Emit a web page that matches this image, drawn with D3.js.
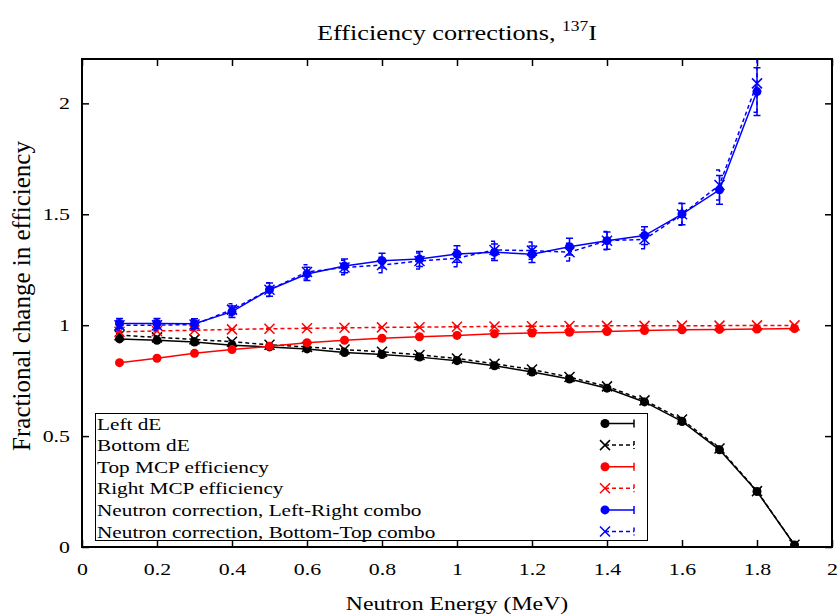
<!DOCTYPE html>
<html>
<head>
<meta charset="utf-8">
<script src="https://cdn.jsdelivr.net/npm/d3@7"></script>
<style>
  html, body { margin: 0; padding: 0; background: #fff; }
  svg { display: block; }
  text { font-family: "Liberation Serif", "Times New Roman", serif; fill: #000; }
</style>
</head>
<body>
<svg id="chart" width="839" height="614"></svg>
<script>
// Neutron energy bins (MeV)
const energy = [0.1, 0.2, 0.3, 0.4, 0.5, 0.6, 0.7, 0.8, 0.9, 1.0, 1.1, 1.2, 1.3, 1.4, 1.5, 1.6, 1.7, 1.8, 1.9];

// Fractional change in efficiency for each correction
const leftDE      = [0.938, 0.932, 0.924, 0.910, 0.902, 0.893, 0.877, 0.868, 0.856, 0.840, 0.817, 0.789, 0.757, 0.716, 0.654, 0.566, 0.438, 0.250, 0.009];
const leftDEErr   = [0.006, 0.006, 0.006, 0.006, 0.006, 0.006, 0.006, 0.006, 0.006, 0.006, 0.006, 0.006, 0.006, 0.007, 0.008, 0.009, 0.010, 0.010, 0.008];
const bottomDE    = [0.955, 0.945, 0.936, 0.925, 0.912, 0.902, 0.890, 0.880, 0.866, 0.850, 0.826, 0.800, 0.766, 0.724, 0.661, 0.575, 0.444, 0.252, 0.010];
const bottomDEErr = [0.006, 0.006, 0.006, 0.006, 0.006, 0.006, 0.006, 0.006, 0.006, 0.006, 0.006, 0.006, 0.006, 0.007, 0.008, 0.009, 0.010, 0.010, 0.008];
const topMCP      = [0.831, 0.851, 0.873, 0.890, 0.905, 0.921, 0.932, 0.941, 0.948, 0.954, 0.961, 0.965, 0.968, 0.971, 0.976, 0.979, 0.981, 0.983, 0.985];
const topMCPErr   = [0.003, 0.003, 0.003, 0.003, 0.003, 0.003, 0.003, 0.003, 0.003, 0.003, 0.003, 0.003, 0.003, 0.003, 0.003, 0.003, 0.003, 0.003, 0.003];
const rightMCP    = [0.970, 0.974, 0.977, 0.981, 0.984, 0.986, 0.988, 0.990, 0.991, 0.993, 0.994, 0.995, 0.996, 0.997, 0.997, 0.998, 0.998, 0.999, 0.999];
const rightMCPErr = [0.002, 0.002, 0.002, 0.002, 0.002, 0.002, 0.002, 0.002, 0.002, 0.002, 0.002, 0.002, 0.002, 0.002, 0.002, 0.002, 0.002, 0.002, 0.002];
const neutronLR   = [1.008, 1.008, 1.007, 1.061, 1.160, 1.231, 1.267, 1.291, 1.298, 1.321, 1.329, 1.320, 1.354, 1.381, 1.404, 1.501, 1.610, 2.053];
const neutronLRErr= [0.022, 0.022, 0.022, 0.026, 0.030, 0.030, 0.031, 0.033, 0.034, 0.037, 0.037, 0.037, 0.038, 0.039, 0.040, 0.048, 0.065, 0.108];
const neutronBT   = [1.000, 1.000, 1.003, 1.070, 1.160, 1.240, 1.260, 1.271, 1.289, 1.302, 1.339, 1.336, 1.329, 1.381, 1.387, 1.500, 1.632, 2.090];
const neutronBTErr= [0.022, 0.022, 0.022, 0.027, 0.031, 0.032, 0.033, 0.035, 0.036, 0.039, 0.039, 0.039, 0.040, 0.041, 0.042, 0.050, 0.068, 0.130];

// Axis ticks
const xTicks = [0, 0.2, 0.4, 0.6, 0.8, 1, 1.2, 1.4, 1.6, 1.8, 2];
const yTicks = [0, 0.5, 1, 1.5, 2];

const series = [
  { name: "Left dE",                               y: leftDE,    err: leftDEErr,    color: "#000000", marker: "circle", dashed: false },
  { name: "Bottom dE",                             y: bottomDE,  err: bottomDEErr,  color: "#000000", marker: "cross",  dashed: true  },
  { name: "Top MCP efficiency",                    y: topMCP,    err: topMCPErr,    color: "#ff0000", marker: "circle", dashed: false },
  { name: "Right MCP efficiency",                  y: rightMCP,  err: rightMCPErr,  color: "#ff0000", marker: "cross",  dashed: true  },
  { name: "Neutron correction, Left-Right combo",  y: neutronLR, err: neutronLRErr, color: "#0000ff", marker: "circle", dashed: false },
  { name: "Neutron correction, Bottom-Top combo",  y: neutronBT, err: neutronBTErr, color: "#0000ff", marker: "cross",  dashed: true  }
];

const margin = { left: 82, right: 7, top: 59, bottom: 67 };
const W = 839, H = 614;
const x = d3.scaleLinear().domain([0, 2]).range([margin.left, W - margin.right]);
const y = d3.scaleLinear().domain([0, 2.2]).range([H - margin.bottom, margin.top]);

const svg = d3.select("#chart");
const DASH = "4,3";
const WIDE = 1.25;   // horizontal stretch of the serif lettering

svg.append("defs").append("clipPath").attr("id", "plotclip")
  .append("rect")
  .attr("x", margin.left).attr("y", margin.top)
  .attr("width", x.range()[1] - margin.left)
  .attr("height", y.range()[0] - margin.top);

// Stretched text placed at (tx, ty)
function wideText(g, tx, ty, size, anchor) {
  return g.append("text")
    .attr("transform", `translate(${tx},${ty}) scale(${WIDE},1)`)
    .attr("text-anchor", anchor)
    .style("font-size", size + "px");
}

// Title with superscript mass number
const title = wideText(svg, 457, 40, 21, "middle");
title.append("tspan").text("Efficiency corrections, ");
title.append("tspan").attr("dy", -9).style("font-size", "14px").text("137");
title.append("tspan").attr("dy", 9).text("I");

// Axis labels
wideText(svg, 457, 610, 19, "middle").text("Neutron Energy (MeV)");
svg.append("text")
  .attr("transform", "translate(30,296) rotate(-90)")
  .attr("text-anchor", "middle")
  .style("font-size", "25px")
  .text("Fractional change in efficiency");

// Axes with inward ticks, mirrored on the opposite sides
const tickLen = 7;
const xAxisB = d3.axisBottom(x).tickValues(xTicks).tickSizeInner(-tickLen).tickSizeOuter(0).tickPadding(16).tickFormat(d3.format("~g"));
const xAxisT = d3.axisTop(x).tickValues(xTicks).tickSizeInner(-tickLen).tickSizeOuter(0).tickFormat("");
const yAxisL = d3.axisLeft(y).tickValues(yTicks).tickSizeInner(-tickLen).tickSizeOuter(0).tickPadding(9.6).tickFormat(d3.format("~g"));
const yAxisR = d3.axisRight(y).tickValues(yTicks).tickSizeInner(-tickLen).tickSizeOuter(0).tickFormat("");

function styleAxis(g) {
  g.select(".domain").remove();
  g.selectAll(".tick line").attr("stroke", "#000").attr("stroke-width", 1.5);
  g.selectAll(".tick text")
    .attr("transform", `scale(${WIDE},1)`)
    .style("font-size", "17.5px")
    .style("font-family", "'Liberation Serif', serif")
    .attr("fill", "#000");
}
svg.append("g").attr("transform", `translate(0,${y.range()[0]})`).call(xAxisB).call(styleAxis);
svg.append("g").attr("transform", `translate(0,${margin.top})`).call(xAxisT).call(styleAxis);
svg.append("g").attr("transform", `translate(${margin.left},0)`).call(yAxisL).call(styleAxis);
svg.append("g").attr("transform", `translate(${x.range()[1]},0)`).call(yAxisR).call(styleAxis);

// Marker helpers
function drawMarker(g, type, cx, cy, color) {
  if (type === "circle") {
    g.append("circle").attr("cx", cx).attr("cy", cy).attr("r", 4.5).attr("fill", color);
  } else {
    const s = 5;
    g.append("path")
      .attr("d", `M${cx - s},${cy - s}L${cx + s},${cy + s}M${cx - s},${cy + s}L${cx + s},${cy - s}`)
      .attr("stroke", color).attr("stroke-width", 1.5).attr("fill", "none");
  }
}

// Data series: lines, error bars, markers
const plot = svg.append("g").attr("clip-path", "url(#plotclip)");
series.forEach(s => {
  const pts = s.y.map((v, i) => ({ x: energy[i], y: v, e: s.err[i] }));
  const g = plot.append("g");
  g.append("path")
    .datum(pts)
    .attr("fill", "none")
    .attr("stroke", s.color)
    .attr("stroke-width", 1.5)
    .attr("stroke-dasharray", s.dashed ? DASH : null)
    .attr("d", d3.line().x(d => x(d.x)).y(d => y(d.y)));
  pts.forEach(p => {
    const px = x(p.x), y0 = y(p.y - p.e), y1 = y(p.y + p.e);
    const cap = 3.5;
    g.append("path")
      .attr("d", `M${px},${y0}L${px},${y1}M${px - cap},${y0}L${px + cap},${y0}M${px - cap},${y1}L${px + cap},${y1}`)
      .attr("stroke", s.color).attr("stroke-width", 1.5).attr("fill", "none")
      .attr("stroke-dasharray", s.dashed ? DASH : null);
    drawMarker(g, s.marker, px, y(p.y), s.color);
  });
});

// Frame
svg.append("rect")
  .attr("x", margin.left).attr("y", margin.top)
  .attr("width", x.range()[1] - margin.left)
  .attr("height", y.range()[0] - margin.top)
  .attr("fill", "none").attr("stroke", "#000").attr("stroke-width", 2);

// Legend
const legend = svg.append("g");
legend.append("rect")
  .attr("x", 95.5).attr("y", 413.5).attr("width", 552).attr("height", 127)
  .attr("fill", "#fff").attr("stroke", "#000").attr("stroke-width", 1);
series.forEach((s, i) => {
  const cy = 423.5 + i * 21.6;
  wideText(legend, 97, cy + 6, 17, "start").text(s.name);
  const x0 = 605, x1 = 634;
  legend.append("path")
    .attr("d", `M${x0},${cy}L${x1},${cy}M${x1},${cy - 4}L${x1},${cy + 4}`)
    .attr("stroke", s.color).attr("stroke-width", 1.5).attr("fill", "none")
    .attr("stroke-dasharray", s.dashed ? DASH : null);
  drawMarker(legend, s.marker, x0, cy, s.color);
});
</script>
</body>
</html>
